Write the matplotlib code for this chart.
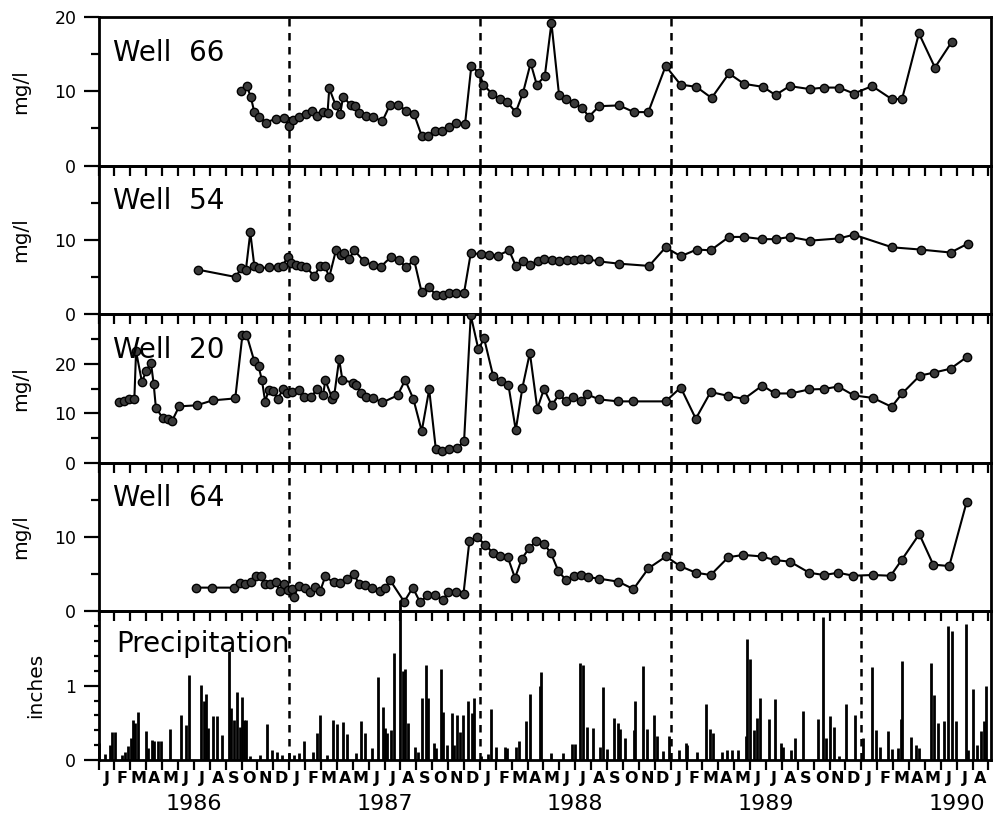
import matplotlib
matplotlib.use("Agg")
import matplotlib.pyplot as plt
from matplotlib.transforms import blended_transform_factory

# ---------------- data (decimal years, values) ----------------
w66_t = [1986.746, 1986.778, 1986.799, 1986.817, 1986.843, 1986.877, 1986.930, 1986.974,
         1987.000, 1987.021, 1987.052, 1987.087, 1987.118, 1987.148, 1987.178, 1987.201, 1987.210,
         1987.244, 1987.267, 1987.283, 1987.323, 1987.346, 1987.367, 1987.401, 1987.437, 1987.489,
         1987.527, 1987.573, 1987.611, 1987.655, 1987.695, 1987.730, 1987.765, 1987.803, 1987.839,
         1987.877, 1987.922, 1987.955, 1987.996,
         1988.018, 1988.066, 1988.104, 1988.144, 1988.188, 1988.226, 1988.266, 1988.298, 1988.340,
         1988.375, 1988.415, 1988.453, 1988.494, 1988.534, 1988.572, 1988.625, 1988.730, 1988.808,
         1988.883, 1988.974,
         1989.052, 1989.135, 1989.215, 1989.306, 1989.385, 1989.484, 1989.550, 1989.624, 1989.729,
         1989.804, 1989.883, 1989.961,
         1990.057, 1990.162, 1990.214, 1990.302, 1990.386, 1990.473]
w66_v = [10.0, 10.7, 9.2, 7.2, 6.6, 5.8, 6.3, 6.4,
         5.3, 6.2, 6.6, 6.9, 7.4, 6.7, 7.2, 7.1, 10.4, 8.1, 6.9, 9.3, 8.1, 8.0, 7.1, 6.7, 6.5, 6.0,
         8.1, 8.2, 7.4, 6.9, 4.0, 4.0, 4.7, 4.6, 5.2, 5.8, 5.6, 13.4, 12.5,
         10.9, 9.6, 8.9, 8.5, 7.2, 9.8, 13.8, 10.9, 12.0, 19.2, 9.5, 8.9, 8.4, 7.8, 6.6, 8.0, 8.1,
         7.2, 7.2, 13.4,
         10.9, 10.6, 9.1, 12.4, 11.0, 10.6, 9.5, 10.7, 10.3, 10.5, 10.5, 9.7,
         10.7, 8.9, 9.0, 17.8, 13.2, 16.6]

w54_t = [1986.520, 1986.721, 1986.747, 1986.773, 1986.796, 1986.817, 1986.843, 1986.895, 1986.939,
         1986.965, 1986.992,
         1987.009, 1987.035, 1987.061, 1987.088, 1987.131, 1987.162, 1987.187, 1987.210, 1987.245,
         1987.271, 1987.288, 1987.314, 1987.341, 1987.393, 1987.437, 1987.481, 1987.533, 1987.577,
         1987.612, 1987.655, 1987.694, 1987.734, 1987.769, 1987.804, 1987.839, 1987.874, 1987.917,
         1987.952,
         1988.005, 1988.048, 1988.095, 1988.153, 1988.188, 1988.226, 1988.263, 1988.302, 1988.336,
         1988.380, 1988.415, 1988.455, 1988.494, 1988.529, 1988.567, 1988.625, 1988.730, 1988.887,
         1988.974,
         1989.053, 1989.137, 1989.210, 1989.306, 1989.385, 1989.481, 1989.551, 1989.626, 1989.731,
         1989.883, 1989.961,
         1990.162, 1990.311, 1990.468, 1990.559]
w54_v = [6.0, 5.0, 6.2, 6.0, 11.0, 6.5, 6.2, 6.3, 6.4, 6.5, 7.7,
         6.9, 6.6, 6.5, 6.4, 5.1, 6.5, 6.5, 5.0, 8.6, 8.0, 8.2, 7.4, 8.6, 7.1, 6.6, 6.4, 7.7, 7.3,
         6.3, 7.3, 3.0, 3.6, 2.6, 2.6, 2.8, 2.9, 2.9, 8.2,
         8.1, 8.0, 7.9, 8.6, 6.5, 7.1, 6.6, 7.2, 7.4, 7.3, 7.2, 7.3, 7.3, 7.4, 7.4, 7.1, 6.8, 6.5, 9.0,
         7.8, 8.7, 8.6, 10.4, 10.4, 10.1, 10.1, 10.4, 9.9, 10.2, 10.7,
         9.0, 8.7, 8.3, 9.5]

w20_t = [1986.109, 1986.135, 1986.161, 1986.188, 1986.197, 1986.228, 1986.249, 1986.275, 1986.289,
         1986.301, 1986.336, 1986.362, 1986.385, 1986.423, 1986.514, 1986.598, 1986.717, 1986.755,
         1986.776, 1986.817, 1986.839, 1986.857, 1986.874, 1986.892, 1986.916, 1986.939, 1986.969,
         1986.991,
         1987.017, 1987.052, 1987.079, 1987.114, 1987.148, 1987.178, 1987.189, 1987.227, 1987.236,
         1987.262, 1987.279, 1987.332, 1987.350, 1987.376, 1987.402, 1987.437, 1987.489, 1987.568,
         1987.608, 1987.651, 1987.695, 1987.734, 1987.769, 1987.803, 1987.839, 1987.882, 1987.917,
         1987.952, 1987.992,
         1988.022, 1988.069, 1988.110, 1988.149, 1988.188, 1988.223, 1988.262, 1988.301, 1988.336,
         1988.377, 1988.415, 1988.453, 1988.488, 1988.529, 1988.563, 1988.625, 1988.726, 1988.803,
         1988.974,
         1989.053, 1989.132, 1989.210, 1989.302, 1989.385, 1989.481, 1989.547, 1989.629, 1989.725,
         1989.804, 1989.879, 1989.961,
         1990.061, 1990.159, 1990.214, 1990.307, 1990.380, 1990.468, 1990.555]
w20_v = [12.3, 12.4, 12.8, 12.9, 22.5, 16.3, 18.5, 20.2, 16.0, 11.1, 9.1, 8.9, 8.4, 11.4, 11.6,
         12.6, 13.0, 25.9, 25.9, 20.5, 19.5, 16.7, 12.3, 14.7, 14.5, 12.8, 15.0, 14.1,
         14.3, 14.7, 13.3, 13.3, 14.9, 13.6, 16.7, 12.8, 13.6, 20.9, 16.7, 16.2, 15.8, 14.0, 13.3,
         13.1, 12.2, 13.6, 16.7, 12.9, 6.4, 14.8, 2.7, 2.3, 2.8, 3.0, 4.4, 29.8, 22.9,
         25.1, 17.6, 16.5, 15.8, 6.6, 15.2, 22.2, 10.9, 14.9, 11.6, 13.8, 12.4, 13.3, 12.4, 13.8,
         12.8, 12.4, 12.4, 12.4,
         15.2, 8.9, 14.3, 13.5, 12.9, 15.6, 14.0, 14.0, 14.8, 14.9, 15.4, 13.6,
         13.1, 11.3, 14.0, 17.6, 18.2, 19.0, 21.4]

w64_t = [1986.513, 1986.595, 1986.712, 1986.740, 1986.769, 1986.799, 1986.827, 1986.852, 1986.874,
         1986.900, 1986.932, 1986.950, 1986.971, 1986.992,
         1987.014, 1987.026, 1987.049, 1987.084, 1987.110, 1987.136, 1987.162, 1987.189, 1987.233,
         1987.267, 1987.302, 1987.341, 1987.364, 1987.398, 1987.433, 1987.477, 1987.503, 1987.529,
         1987.603, 1987.648, 1987.687, 1987.725, 1987.765, 1987.806, 1987.835, 1987.875, 1987.914,
         1987.945, 1987.984,
         1988.027, 1988.071, 1988.106, 1988.146, 1988.184, 1988.220, 1988.258, 1988.295, 1988.336,
         1988.373, 1988.412, 1988.452, 1988.491, 1988.529, 1988.569, 1988.627, 1988.726, 1988.805,
         1988.884, 1988.976,
         1989.049, 1989.133, 1989.210, 1989.303, 1989.382, 1989.477, 1989.547, 1989.626, 1989.727,
         1989.804, 1989.879, 1989.958,
         1990.059, 1990.154, 1990.211, 1990.304, 1990.377, 1990.461, 1990.552]
w64_v = [3.2, 3.2, 3.2, 3.8, 3.7, 3.9, 4.7, 4.8, 3.7, 3.7, 3.9, 2.7, 3.7, 2.9,
         3.0, 2.0, 3.4, 3.1, 2.6, 3.3, 2.7, 4.7, 3.9, 3.8, 4.4, 5.1, 3.7, 3.5, 3.1, 2.7, 3.1, 4.2,
         1.3, 3.2, 1.2, 2.2, 2.2, 1.6, 2.6, 2.6, 2.4, 9.5, 10.0,
         9.0, 7.8, 7.4, 7.3, 4.5, 7.1, 8.5, 9.5, 9.1, 7.8, 5.4, 4.2, 4.7, 4.9, 4.6, 4.4, 4.0, 3.0,
         5.8, 7.4,
         6.1, 5.2, 4.9, 7.3, 7.6, 7.4, 6.9, 6.7, 5.2, 4.9, 5.2, 4.8,
         4.9, 4.8, 6.9, 10.4, 6.3, 6.1, 14.7]

precip_t = [1986.003, 1986.035, 1986.061, 1986.073, 1986.087, 1986.121, 1986.139, 1986.153, 1986.173,
            1986.182, 1986.194, 1986.208, 1986.251, 1986.260, 1986.282, 1986.291, 1986.312, 1986.329,
            1986.373, 1986.433, 1986.459, 1986.477, 1986.537, 1986.551, 1986.563, 1986.575, 1986.603,
            1986.620, 1986.650, 1986.685, 1986.693, 1986.711, 1986.728, 1986.740, 1986.754, 1986.763,
            1986.776, 1986.797, 1986.849, 1986.884, 1986.910, 1986.936, 1986.962, 1986.997,
            1987.026, 1987.049, 1987.080, 1987.123, 1987.144, 1987.161, 1987.196, 1987.231, 1987.251,
            1987.282, 1987.303, 1987.352, 1987.378, 1987.395, 1987.435, 1987.464, 1987.490, 1987.504,
            1987.512, 1987.535, 1987.548, 1987.583, 1987.595, 1987.606, 1987.623, 1987.658, 1987.676,
            1987.697, 1987.715, 1987.727, 1987.759, 1987.771, 1987.794, 1987.806, 1987.829, 1987.852,
            1987.864, 1987.882, 1987.894, 1987.912, 1987.940, 1987.958, 1987.970,
            1988.005, 1988.040, 1988.058, 1988.085, 1988.129, 1988.141, 1988.190, 1988.204, 1988.243,
            1988.261, 1988.313, 1988.322, 1988.375, 1988.437, 1988.481, 1988.498, 1988.525, 1988.539,
            1988.560, 1988.595, 1988.630, 1988.648, 1988.665, 1988.701, 1988.724, 1988.736, 1988.762,
            1988.806, 1988.815, 1988.856, 1988.877, 1988.912, 1988.926, 1988.961, 1988.991,
            1989.044, 1989.079, 1989.087, 1989.136, 1989.183, 1989.209, 1989.223, 1989.270, 1989.296,
            1989.322, 1989.351, 1989.397, 1989.403, 1989.417, 1989.435, 1989.452, 1989.470, 1989.518,
            1989.548, 1989.579, 1989.591, 1989.630, 1989.652, 1989.696, 1989.774, 1989.797, 1989.814,
            1989.838, 1989.856, 1989.883, 1989.918, 1989.965,
            1990.009, 1990.057, 1990.075, 1990.099, 1990.139, 1990.162, 1990.191, 1990.209, 1990.214,
            1990.261, 1990.287, 1990.304, 1990.365, 1990.383, 1990.400, 1990.435, 1990.452, 1990.478,
            1990.496, 1990.548, 1990.562, 1990.586, 1990.609, 1990.626, 1990.643, 1990.652]
precip_in = [0.23, 0.08, 0.2, 0.38, 0.38, 0.07, 0.11, 0.19, 0.29, 0.54, 0.5, 0.64, 0.39, 0.16, 0.27,
             0.25, 0.26, 0.25, 0.42, 0.61, 0.47, 1.14, 1.01, 0.79, 0.89, 0.43, 0.59, 0.59, 0.33, 1.47,
             0.7, 0.54, 0.92, 0.45, 0.85, 0.54, 0.54, 0.05, 0.07, 0.48, 0.14, 0.11, 0.07, 0.09,
             0.07, 0.09, 0.25, 0.11, 0.36, 0.61, 0.07, 0.54, 0.48, 0.51, 0.35, 0.09, 0.52, 0.37, 0.16,
             1.12, 0.72, 0.43,
             0.36, 0.41, 1.44, 2.15, 1.2, 1.22, 0.5, 0.17, 0.11, 0.84, 1.28, 0.84, 0.23, 0.16, 1.22,
             0.65, 0.2, 0.63, 0.2, 0.6, 0.38, 0.61, 0.79, 0.63, 0.83,
             0.05, 0.08, 0.69, 0.18, 0.17, 0.16, 0.17, 0.26, 0.53, 0.89, 0.99, 1.19, 0.09, 0.1, 0.21,
             0.21, 1.3, 1.28, 0.45, 0.43, 0.17, 0.98, 0.15, 0.56, 0.5, 0.42, 0.29, 0.41, 0.79, 1.26,
             0.42, 0.61, 0.32, 0.12, 0.32,
             0.14, 0.23, 0.2, 0.11, 0.75, 0.42, 0.36, 0.11, 0.14, 0.14, 0.13, 0.32, 1.63, 1.36, 0.41,
             0.57, 0.83, 0.55, 0.82, 0.23, 0.18, 0.13, 0.3, 0.66, 0.55, 1.93, 0.3, 0.59, 0.45, 0.05,
             0.75, 0.6,
             0.3, 1.25, 0.41, 0.18, 0.39, 0.15, 0.16, 0.55, 1.33, 0.31, 0.2, 0.16, 1.31, 0.87, 0.5,
             0.52, 1.8, 1.74, 0.52, 1.83, 0.14, 0.96, 0.2, 0.39, 0.52, 0.99]

well_names = ["Well  66", "Well  54", "Well  20", "Well  64"]
month_letters = ["J", "F", "M", "A", "M", "J", "J", "A", "S", "O", "N", "D"]
years = [1986, 1987, 1988, 1989, 1990]
n_months_shown = 56          # Jan 1986 .. Aug 1990
divider_years = [1987, 1988, 1989, 1990]
x_min, x_max = 1986.0, 1990.68

# ---------------- figure ----------------
plt.rcParams["font.family"] = ["DejaVu Sans"]
fig = plt.figure(figsize=(10.02, 8.21), dpi=100)
W, H = 1002.0, 821.0
left, right = 98.5 / W, 991.0 / W
top, bottom = 1 - 17 / H, 1 - 760 / H
ph = (top - bottom) / 5

ylims = [(0, 20), (0, 20), (0, 30), (0, 20), (0, 2)]
majors = [[0, 10, 20], [0, 10], [0, 10, 20], [0, 10], [0, 1]]
minors = [[5, 15], [5, 15], [5, 15, 25], [5, 15], [0.2, 0.4, 0.6, 0.8, 1.2, 1.4, 1.6, 1.8]]
series = [(w66_t, w66_v), (w54_t, w54_v), (w20_t, w20_v), (w64_t, w64_v)]

month_edges = [1986 + m / 12 for m in range(n_months_shown + 1)]

axes = []
for i in range(5):
    ax = fig.add_axes([left, top - (i + 1) * ph, right - left, ph])
    ax.patch.set_visible(False)
    ax.set_xlim(x_min, x_max)
    ax.set_ylim(*ylims[i])
    for s in ax.spines.values():
        s.set_linewidth(2.0)
    ax.set_yticks(majors[i])
    ax.set_yticks(minors[i], minor=True)
    ax.tick_params(axis="y", which="major", direction="out", length=11, width=1.6,
                   labelsize=12.5, pad=5, right=False)
    ax.tick_params(axis="y", which="minor", direction="out",
                   length=(6 if i < 4 else 3.6), width=1.6, right=False)
    ax.set_xticks(month_edges)
    ax.set_xticks([], minor=True)
    ax.tick_params(axis="x", which="major", direction="out", length=7, width=1.6,
                   labelbottom=False, top=False)
    for yr in divider_years:
        ax.axvline(yr, color="black", lw=1.8, linestyle=(0, (3, 2.6)), zorder=1)
    axes.append(ax)

for i, (t, v) in enumerate(series):
    ax = axes[i]
    ax.plot(t, v, color="black", lw=1.5, marker="o", markersize=6,
            markerfacecolor="#3a3a3a", markeredgecolor="black", markeredgewidth=1.0,
            zorder=3)
    ax.text(0.016, 0.76, well_names[i], transform=ax.transAxes, fontsize=20,
            ha="left", va="center", zorder=4)
    ax.text(-0.087, 0.5, "mg/l", transform=ax.transAxes, rotation=90,
            fontsize=14.5, ha="center", va="center")

# precipitation panel
axp = axes[4]
axp.vlines(precip_t, 0, precip_in, color="black", lw=2.0, clip_on=False, zorder=3)
axp.text(0.02, 0.78, "Precipitation", transform=axp.transAxes, fontsize=20,
         ha="left", va="center", zorder=4)
axp.text(-0.07, 0.5, "inches", transform=axp.transAxes, rotation=90,
         fontsize=14.5, ha="center", va="center")

trans = blended_transform_factory(axp.transData, axp.transAxes)
for m in range(n_months_shown):
    mid = 1986 + (m + 0.5) / 12
    axp.text(mid, -0.125, month_letters[m % 12], transform=trans, fontsize=11.5,
             fontweight="bold", ha="center", va="center")
for yr in years:
    axp.text(yr + 0.5, -0.295, str(yr), transform=trans, fontsize=16,
             ha="center", va="center")

fig.savefig("out.png", dpi=100)
